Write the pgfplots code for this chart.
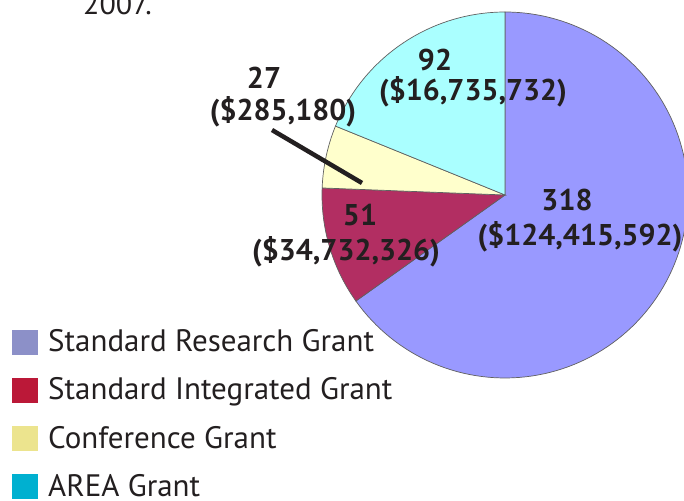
\documentclass[border=0pt]{standalone}
\usepackage{pgfplots}
\pgfplotsset{compat=1.18}
\usepackage{fontspec}
\setmainfont{PT Sans}
\definecolor{txt}{HTML}{231F20}
\definecolor{sresS}{HTML}{9999FF}
\definecolor{sintS}{HTML}{B22E62}
\definecolor{confS}{HTML}{FFFFCC}
\definecolor{areaS}{HTML}{AAFFFF}
\definecolor{sresL}{HTML}{8C90C8}
\definecolor{sintL}{HTML}{BB1838}
\definecolor{confL}{HTML}{ECE48E}
\definecolor{areaL}{HTML}{00B0D0}
\definecolor{edge}{HTML}{606060}
% grant counts
\def\nSR{318}\def\nSI{51}\def\nCG{27}\def\nAR{92}
\pgfmathsetmacro{\tot}{\nSR+\nSI+\nCG+\nAR}
\pgfmathsetmacro{\aA}{90}
\pgfmathsetmacro{\aB}{\aA-\nSR/\tot*360}
\pgfmathsetmacro{\aC}{\aB-\nSI/\tot*360}
\pgfmathsetmacro{\aD}{\aC-\nCG/\tot*360}
\pgfmathsetmacro{\aE}{\aD-\nAR/\tot*360}
\def\cx{505}\def\cy{305}\def\R{183}
\begin{document}
\begin{tikzpicture}
\begin{axis}[width=684pt,height=500pt,scale only axis,
  xmin=0,xmax=684,ymin=0,ymax=500,axis lines=none,clip=false]
\addplot[fill=sresS,draw=edge,line width=0.7pt,domain=\aB:\aA,samples=120]
  ({\cx+\R*cos(x)},{\cy+\R*sin(x)}) -- (axis cs:\cx,\cy) -- cycle;
\addplot[fill=sintS,draw=edge,line width=0.7pt,domain=\aC:\aB,samples=40]
  ({\cx+\R*cos(x)},{\cy+\R*sin(x)}) -- (axis cs:\cx,\cy) -- cycle;
\addplot[fill=confS,draw=edge,line width=0.7pt,domain=\aD:\aC,samples=30]
  ({\cx+\R*cos(x)},{\cy+\R*sin(x)}) -- (axis cs:\cx,\cy) -- cycle;
\addplot[fill=areaS,draw=edge,line width=0.7pt,domain=\aE:\aD,samples=60]
  ({\cx+\R*cos(x)},{\cy+\R*sin(x)}) -- (axis cs:\cx,\cy) -- cycle;
% leader line
\addplot[txt,line width=4.5pt,no marks] coordinates {(272,370) (362,317)};
% labels
\begin{scope}[every node/.style={text=txt,font=\fontsize{30}{35}\selectfont\bfseries,inner sep=0pt}]
\node at (axis cs:264,422) {27};
\node at (axis cs:283,388) {(\$285,180)};
\node at (axis cs:435,440) {92};
\node at (axis cs:473,408) {(\$16,735,732)};
\node at (axis cs:567,300) {318};
\node at (axis cs:580,263) {(\$124,415,592)};
\node at (axis cs:360,285) {51};
\node at (axis cs:346,248) {(\$34,732,326)};
\end{scope}
% top text fragment
\node[text=txt,font=\fontsize{30}{35}\selectfont,anchor=base west,inner sep=0pt] at (axis cs:83,485) {2007.};
% legend
\begin{scope}[every node/.style={text=txt,font=\fontsize{31}{36}\selectfont,anchor=base west,inner sep=0pt}]
\fill[sresL] (axis cs:12,170) rectangle (axis cs:38,145);
\node at (axis cs:48,148) {Standard Research Grant};
\fill[sintL] (axis cs:12,122) rectangle (axis cs:38,97);
\node at (axis cs:48,100) {Standard Integrated Grant};
\fill[confL] (axis cs:12,74) rectangle (axis cs:38,49);
\node at (axis cs:48,52) {Conference Grant};
\fill[areaL] (axis cs:12,26) rectangle (axis cs:38,1);
\node at (axis cs:48,4) {AREA Grant};
\end{scope}
\end{axis}
\pgfresetboundingbox
\path[use as bounding box] (current axis.south west) rectangle (current axis.north east);
\end{tikzpicture}
\end{document}
